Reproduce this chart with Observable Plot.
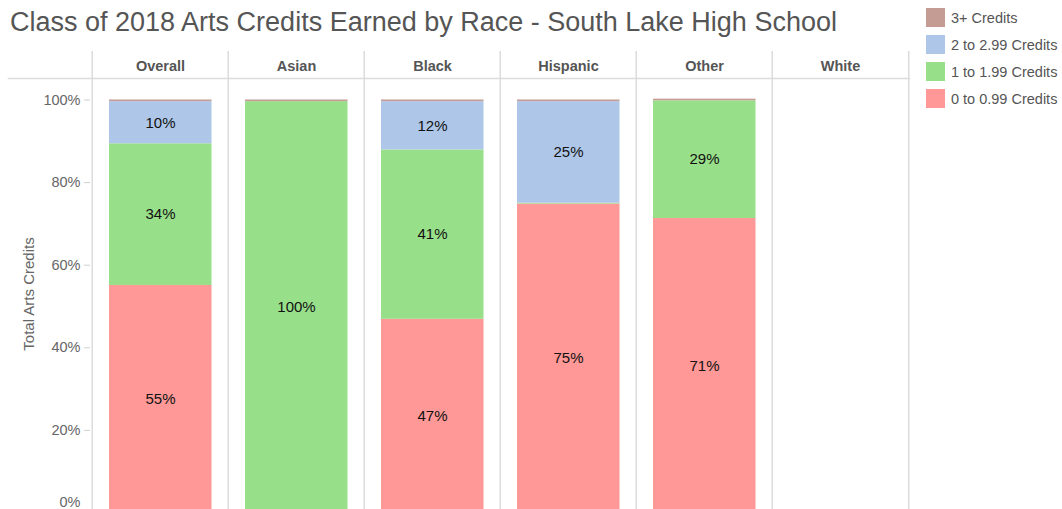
<!DOCTYPE html>
<html><head><meta charset="utf-8">
<script src="https://cdn.jsdelivr.net/npm/d3@7"></script>
<script src="https://cdn.jsdelivr.net/npm/@observablehq/plot@0.6"></script>
<style>
body{margin:0;background:#fff;font-family:"Liberation Sans",Arial,sans-serif;}
#wrap{position:relative;width:1062px;height:509px;overflow:hidden;}
#chart{position:absolute;left:0;top:0;}
#title{position:absolute;left:10px;top:7px;font-size:27px;color:#555;white-space:nowrap;z-index:2;}
#legend{position:absolute;left:926px;top:8px;z-index:2;}
.item{display:flex;align-items:center;height:19px;margin-bottom:8px;font-size:14.5px;color:#555;white-space:nowrap;}
.sw{width:19px;height:19px;margin-right:6px;flex:none;}
</style>
</head><body>
<div id="wrap">
  <div id="chart"></div>
  <div id="title">Class of 2018 Arts Credits Earned by Race - South Lake High School</div>
  <div id="legend"></div>
</div>
<script>
const races = ["Overall", "Asian", "Black", "Hispanic", "Other", "White"];
const categories = ["0 to 0.99 Credits", "1 to 1.99 Credits", "2 to 2.99 Credits", "3+ Credits"];
const colors = ["#ff9896", "#98df8a", "#aec7e8", "#c49c94"];
// percent of students per race, one array per credit band
const credits0to099 = [55.1, 0, 46.9, 74.8, 71.3, null];
const credits1to199 = [34.3, 99.6, 41.0, 0.2, 28.5, null];
const credits2to299 = [10.2, 0, 11.7, 24.6, 0, null];
const credits3plus = [0.4, 0.4, 0.4, 0.4, 0.4, null];
const yTicks = [0, 20, 40, 60, 80, 100];

const series = [credits0to099, credits1to199, credits2to299, credits3plus];
const rows = [];
races.forEach((race, i) => {
  series.forEach((vals, j) => {
    const v = vals[i];
    if (v != null && v > 0) rows.push({race, cat: categories[j], value: v});
  });
});

const W = 1062, H = 509, mL = 90, mR = 153, mT = 78;
const step = (W - mL - mR) / races.length;
const grid = "#dcdcdc";

const chart = Plot.plot({
  width: W, height: H,
  marginTop: mT, marginBottom: 0, marginLeft: mL, marginRight: mR,
  style: {fontFamily: "Liberation Sans, Arial, sans-serif", background: "transparent", overflow: "visible"},
  x: {domain: races, padding: 0},
  y: {domain: [0, 100], insetTop: 21.5, insetBottom: -3.5},
  color: {domain: categories, range: colors},
  marks: [
    Plot.ruleX(races, {x: d => d, dx: -step / 2, stroke: grid, strokeWidth: 1.5, insetTop: -27}),
    Plot.ruleX(races.slice(-1), {x: d => d, dx: step / 2, stroke: grid, strokeWidth: 1.5, insetTop: -27}),
    Plot.frame({anchor: "top", insetLeft: -82, stroke: grid, strokeWidth: 1.5}),
    Plot.barY(rows, Plot.stackY({x: "race", y: "value", fill: "cat", order: categories, insetLeft: 17, insetRight: 16.5})),
    Plot.text(rows, Plot.stackY({x: "race", y: "value", z: "cat", order: categories,
      text: d => d.value > 5 ? Math.round(d.value) + "%" : "", fontSize: 15, fill: "#111"})),
    Plot.axisY(yTicks.filter(t => t > 0), {tickFormat: d => d + "%", tickSize: 6, tickPadding: 4, fontSize: 14.5,
      stroke: "#cfcfcf", fill: "#666", label: "Total Arts Credits", labelAnchor: "center", labelOffset: 67, labelArrow: "none"}),
    Plot.axisY(yTicks.filter(t => t === 0), {tickFormat: d => d + "%", tickSize: 0, tickPadding: 10, fontSize: 14.5,
      fill: "#666", dy: -11, label: null}),
    Plot.axisX({anchor: "top", tickSize: 0, tickPadding: 8, fontSize: 14.5, fontWeight: "bold", fill: "#555", label: null})
  ]
});
document.getElementById("chart").appendChild(chart);
// enlarge the y-axis title slightly to match
chart.querySelectorAll("text").forEach(t => {
  if (t.textContent === "Total Arts Credits") t.setAttribute("font-size", "15");
});

// legend (top to bottom: highest band first)
const legend = document.getElementById("legend");
categories.slice().reverse().forEach((c, k) => {
  const col = colors[categories.length - 1 - k];
  const item = document.createElement("div");
  item.className = "item";
  item.innerHTML = `<div class="sw" style="background:${col}"></div><span>${c}</span>`;
  legend.appendChild(item);
});
</script>
</body></html>
